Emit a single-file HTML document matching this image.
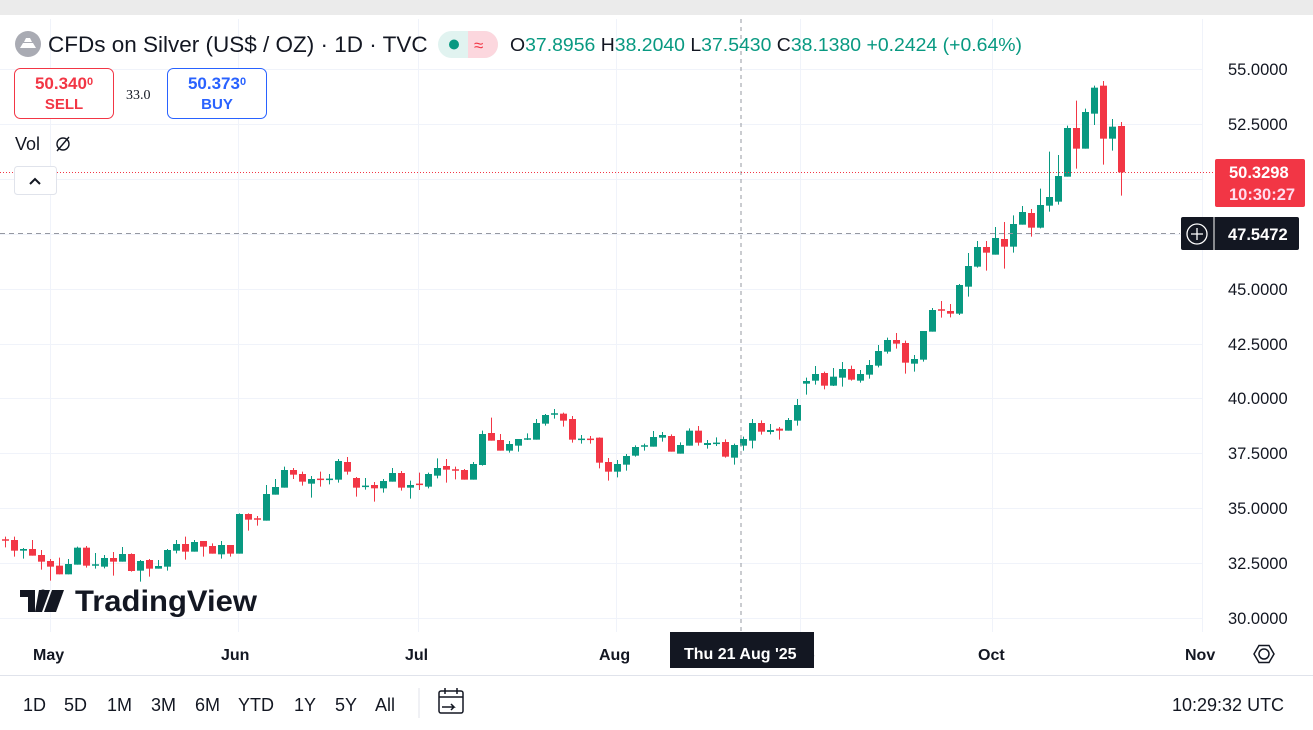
<!DOCTYPE html>
<html><head><meta charset="utf-8"><style>
html,body{margin:0;padding:0;width:1313px;height:730px;overflow:hidden;background:#fff;font-family:"Liberation Sans",sans-serif;}
svg{position:absolute;left:0;top:0}
</style></head><body>
<svg id="s" width="1313" height="730" xmlns="http://www.w3.org/2000/svg" font-family="Liberation Sans, sans-serif">
<rect x="0" y="0" width="1313" height="15" fill="#ebebeb"/>
<rect x="2" y="19" width="1311" height="711" fill="#fff"/>
<g id="grid" stroke="#f0f3fa" stroke-width="1"></g>
<g id="candles"></g>
<line x1="741" y1="19" x2="741" y2="632" stroke="#9598a1" stroke-dasharray="4,4"/>
<line x1="0" y1="233.5" x2="1180" y2="233.5" stroke="#9598a1" stroke-dasharray="5,4"/>
<line x1="0" y1="172.5" x2="1213" y2="172.5" stroke="#f23645" stroke-dasharray="1,2"/>
<g font-size="16.5" fill="#131722">
<text x="1228" y="75">55.0000</text><text x="1228" y="130">52.5000</text>
<text x="1228" y="295">45.0000</text><text x="1228" y="350">42.5000</text>
<text x="1228" y="404">40.0000</text><text x="1228" y="459">37.5000</text>
<text x="1228" y="514">35.0000</text><text x="1228" y="569">32.5000</text>
<text x="1228" y="624">30.0000</text>
</g>
<rect x="1215" y="159" width="90" height="48" rx="2" fill="#f23645"/>
<text x="1229" y="178" font-size="16.5" font-weight="bold" fill="#fff">50.3298</text>
<text x="1229" y="200" font-size="16.5" font-weight="bold" fill="#fde">10:30:27</text>
<rect x="1181" y="217" width="118" height="33" rx="2" fill="#131722"/>
<line x1="1214" y1="217" x2="1214" y2="250" stroke="#fff"/>
<circle cx="1197" cy="234" r="10" fill="none" stroke="#fff" stroke-width="1.3"/>
<path d="M1191 234h12M1197 228v12" stroke="#fff" stroke-width="1.3"/>
<text x="1228" y="240" font-size="16.5" font-weight="bold" fill="#fff">47.5472</text>
<g font-size="16" font-weight="bold" fill="#131722">
<text x="33" y="660">May</text><text x="221" y="660">Jun</text><text x="405" y="660">Jul</text>
<text x="599" y="660">Aug</text><text x="805" y="660">p</text><text x="978" y="660">Oct</text>
<text x="1185" y="660">Nov</text>
</g>
<rect x="670" y="632" width="144" height="36" fill="#131722"/>
<text x="684" y="659" font-size="16" font-weight="bold" fill="#fff">Thu 21 Aug '25</text>
<circle cx="1264" cy="654" r="5" fill="none" stroke="#131722" stroke-width="1.5"/>
<path d="M1254 654l5-8.5h10l5 8.5-5 8.5h-10z" fill="none" stroke="#131722" stroke-width="1.5"/>
<line x1="0" y1="675.5" x2="1313" y2="675.5" stroke="#e0e3eb"/>
<g font-size="18" fill="#131722">
<text x="23" y="711">1D</text><text x="64" y="711">5D</text><text x="107" y="711">1M</text>
<text x="151" y="711">3M</text><text x="195" y="711">6M</text><text x="238" y="711">YTD</text>
<text x="294" y="711">1Y</text><text x="335" y="711">5Y</text><text x="375" y="711">All</text>
<text x="1172" y="711">10:29:32 UTC</text>
</g>
<line x1="419" y1="688" x2="419" y2="718" stroke="#e0e3eb"/>
<rect x="439" y="691" width="24" height="22" rx="2" fill="none" stroke="#131722" stroke-width="1.5"/>
<path d="M439 697h24M445 688v6M457 688v6M442 707h12l-3-3m3 3-3 3" fill="none" stroke="#131722" stroke-width="1.5"/>
<circle cx="28" cy="44" r="13" fill="#a9abb3"/>
<path d="M20 48h16l-3-5h-10zM24 42h8l-2-4h-4z" fill="#fff"/>
<text x="48" y="52" font-size="22.5" fill="#131722">CFDs on Silver (US$ / OZ) · 1D · TVC</text>
<rect x="438" y="31" width="60" height="27" rx="13.5" fill="#e1f3f0"/>
<path d="M468 31h16.5a13.5 13.5 0 0 1 0 27h-16.5z" fill="#fcd7de"/>
<circle cx="454" cy="44.5" r="5" fill="#089981"/>
<text x="474" y="51" font-size="17" fill="#f23645">≈</text>
<g font-size="18.5" fill="#089981"><text x="510" y="51" textLength="512" lengthAdjust="spacingAndGlyphs"><tspan fill="#131722">O</tspan>37.8956 <tspan fill="#131722">H</tspan>38.2040 <tspan fill="#131722">L</tspan>37.5430 <tspan fill="#131722">C</tspan>38.1380 +0.2424 (+0.64%)</text></g>
<rect x="14.5" y="68.5" width="99" height="50" rx="6" fill="#fff" stroke="#f23645"/>
<text x="64" y="89" font-size="17" font-weight="bold" fill="#f23645" text-anchor="middle">50.340<tspan font-size="11" dy="-4">0</tspan></text>
<text x="64" y="109" font-size="15" font-weight="bold" fill="#f23645" text-anchor="middle">SELL</text>
<text x="126" y="99" font-size="14" fill="#131722" font-family="Liberation Serif, serif">33.0</text>
<rect x="167.5" y="68.5" width="99" height="50" rx="6" fill="#fff" stroke="#2962ff"/>
<text x="217" y="89" font-size="17" font-weight="bold" fill="#2962ff" text-anchor="middle">50.373<tspan font-size="11" dy="-4">0</tspan></text>
<text x="217" y="109" font-size="15" font-weight="bold" fill="#2962ff" text-anchor="middle">BUY</text>
<text x="15" y="150" font-size="18" fill="#131722">Vol</text>
<circle cx="63" cy="144" r="6" fill="none" stroke="#131722" stroke-width="1.4"/>
<line x1="57" y1="151" x2="69" y2="137" stroke="#131722" stroke-width="1.4"/>
<rect x="14.5" y="166.5" width="42" height="28" rx="3" fill="#fff" stroke="#e0e3eb"/>
<path d="M30 184l5-5 5 5" fill="none" stroke="#131722" stroke-width="2"/>
<path d="M20 590h15v22h-7v-15h-8z M39 590h11l-8 22h-7z" fill="#131722"/>
<circle cx="43" cy="593" r="3.5" fill="#131722"/>
<path d="M52 590h12l-8 22h-12z" fill="#131722"/>
<text x="75" y="611" font-size="30" font-weight="bold" fill="#131722" textLength="182" lengthAdjust="spacingAndGlyphs">TradingView</text>
</svg>
<script>
var NS="http://www.w3.org/2000/svg";
var g=document.getElementById('grid');
function ln(p,x1,y1,x2,y2,c,w){var l=document.createElementNS(NS,'line');l.setAttribute('x1',x1);l.setAttribute('y1',y1);l.setAttribute('x2',x2);l.setAttribute('y2',y2);if(c)l.setAttribute('stroke',c);if(w)l.setAttribute('stroke-width',w);p.appendChild(l);}
[69,124,179,234,289,344,398,453,508,563,618].forEach(function(y){ln(g,0,y+.5,1203,y+.5);});
[50,238,418,616,800,992,1202].forEach(function(x){ln(g,x+.5,19,x+.5,632);});
var A=[['r',420,420,410,442],['r',420,452,410,470],['g',447,452,444,476],['r',447,467,420,467],['r',465,485,450,509],['r',483,500,477,542],['r',497,523,473,523],['g',492,523,477,523],['g',443,494,440,494],['r',443,497,438,503],['g',495,495,459,506],['g',474,500,465,505],['r',474,485,456,527],['g',462,485,441,485],['r',462,513,460,515],['g',483,512,480,545],['r',480,506,477,530],['g',498,506,480,506],['g',450,500,447,512],['g',432,452,420,460],['r',432,455,410,479],['g',426,455,420,455],['r',423,440,423,470],['r',438,461,430,461],['g',435,463,423,476],['r',435,461,435,470],['g',342,461,340,461],['r',342,359,340,392],['r',357,357,348,377],['g',282,362,255,362],['g',261,284,237,284],['g',210,263,200,263],['r',210,224,204,237],['r',222,245,215,257],['g',237,251,228,293],['r',238,238,215,260],['g',238,238,222,253],['g',183,239,177,248],['r',186,215,171,224],['r',234,263,231,290],['g',259,259,234,269],['r',255,265,246,305],['g',243,265,237,278],['g',219,245,204,245],['r',219,263,213,272],['g',255,263,242,296],['r',253,253,218,270]];
var B=[['g',402,440,398,445],['g',384,407,355,415],['r',378,389,357,428],['r',390,390,380,418],['r',390,419,387,419],['g',372,419,366,419],['g',282,375,272,377],['r',279,302,233,302],['r',300,332,282,332],['g',312,332,303,338],['g',297,317,297,335],['g',297,297,280,300],['g',249,299,237,299],['g',225,251,222,257],['g',222,222,207,236],['r',221,242,218,260],['r',237,299,228,308],['g',298,298,285,311],['r',298,298,288,311],['r',293,368,292,385],['r',366,395,354,422],['g',372,395,360,412],['g',348,374,342,392],['g',321,347,316,350],['g',318,318,311,332],['g',291,320,273,320],['g',285,293,276,305],['r',288,335,283,335],['g',315,341,307,341],['g',272,317,265,317],['r',272,308,258,317],['g',309,315,300,326],['g',310,310,292,318],['r',306,350,298,353],['g',315,353,311,374],['g',297,317,290,332],['g',249,302,237,325],['r',249,275,241,284],['g',270,276,252,283],['r',266,272,261,299],['g',240,272,234,272],['g',195,242,177,257],['g',123,131,113,164],['g',102,122,78,134]];
var C=[['r',909,947,905,958],['g',920,947,894,948],['g',897,923,876,950],['r',897,929,887,932],['g',912,932,900,938],['g',885,914,870,926],['g',843,887,825,892],['g',810,845,803,851],['r',810,821,789,836],['r',819,878,812,911],['g',867,881,855,905],['g',783,869,783,875],['g',720,785,714,785],['r',720,720,693,743],['r',723,731,702,742],['g',645,731,642,735],['g',588,650,549,680],['g',531,590,513,593],['r',531,548,513,602],['g',504,554,471,554],['r',507,530,456,596],['g',462,530,436,548],['g',426,464,408,464],['r',429,473,417,500],['g',405,473,356,475],['g',381,407,245,425],['g',318,395,255,404],['g',174,320,167,320],['r',174,236,92,296],['g',126,236,116,236],['g',53,131,47,165],['r',47,206,33,284],['g',170,206,147,242],['r',168,307,156,377]];
var all=[];
A.forEach(function(c){all.push([c[0],400+c[1]/3,400+c[2]/3,400+c[3]/3,400+c[4]/3]);});
B.forEach(function(c){all.push([c[0],340+c[1]/3,340+c[2]/3,340+c[3]/3,340+c[4]/3]);});
C.forEach(function(c){all.push([c[0],70+c[1]/3,70+c[2]/3,70+c[3]/3,70+c[4]/3]);});
var cg=document.getElementById('candles');
all.forEach(function(c,i){
 var x=Math.round(4.7+9*i);var col=c[0]=='g'?'#089981':'#f23645';
 ln(cg,x+.5,c[3],x+.5,c[4],col,1);
 var h=Math.max(1.5,c[2]-c[1]);
 var r=document.createElementNS(NS,'rect');r.setAttribute('x',x-3);r.setAttribute('y',c[1]-(c[2]-c[1]<1.5?0.75:0));r.setAttribute('width',7);r.setAttribute('height',h);r.setAttribute('fill',col);cg.appendChild(r);
});
</script>
</body></html>
